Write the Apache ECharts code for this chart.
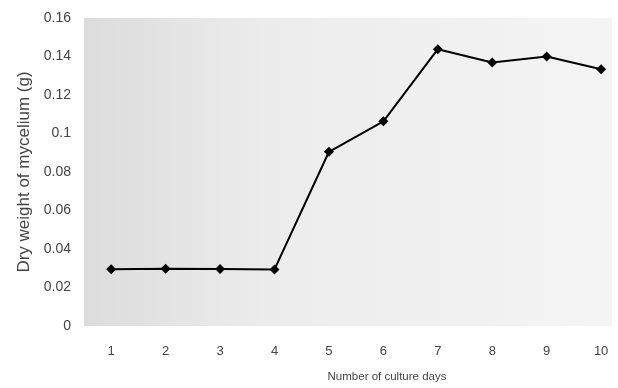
<!DOCTYPE html>
<html>
<head>
<meta charset="utf-8">
<script src="https://cdn.jsdelivr.net/npm/echarts@6/dist/echarts.min.js"></script>
<style>
  html, body { margin: 0; padding: 0; background: #fff; }
  #main { width: 618px; height: 388px; }
</style>
</head>
<body>
<div id="main"></div>
<script>
var days = [1, 2, 3, 4, 5, 6, 7, 8, 9, 10];
var dryWeight = [0.0295, 0.0297, 0.0296, 0.0294, 0.0905, 0.1063, 0.1438, 0.1369, 0.1400, 0.1334];

var yTicks = [0, 0.02, 0.04, 0.06, 0.08, 0.1, 0.12, 0.14, 0.16];

var myChart = echarts.init(document.getElementById('main'));

var points = days.map(function (d, i) {
    return [d, dryWeight[i]];
});

option = {
    animation: false,
    grid: {
        left: 84,
        right: 6,
        top: 18,
        bottom: 61,
        show: true,
        borderWidth: 0,
        backgroundColor: new echarts.graphic.LinearGradient(0, 0, 1, 0, [
            { offset: 0, color: '#dcdcdc' },
            { offset: 0.35, color: '#ececec' },
            { offset: 1, color: '#f4f4f4' }
        ])
    },
    xAxis: {
        type: 'value',
        min: 0.5,
        max: 10.2,
        interval: 0.5,
        name: 'Number of culture days',
        nameLocation: 'middle',
        nameGap: 45,
        nameTextStyle: {
            fontFamily: 'Liberation Sans',
            fontSize: 11.5,
            color: '#444',
            padding: [0, 0, 0, 78]
        },
        axisLine: { show: false },
        axisTick: { show: false },
        splitLine: { show: false },
        axisLabel: {
            margin: 19,
            fontFamily: 'Liberation Sans',
            fontSize: 13,
            color: '#444',
            formatter: function (v) {
                return days.indexOf(v) >= 0 ? String(v) : '';
            }
        }
    },
    yAxis: {
        type: 'value',
        min: yTicks[0],
        max: yTicks[yTicks.length - 1],
        interval: 0.02,
        name: 'Dry weight of mycelium (g)',
        nameLocation: 'middle',
        nameGap: 50,
        nameTextStyle: {
            fontFamily: 'Liberation Sans',
            fontSize: 17,
            color: '#444'
        },
        axisLine: { show: false },
        axisTick: { show: false },
        splitLine: { show: false },
        axisLabel: {
            margin: 13,
            fontFamily: 'Liberation Sans',
            fontSize: 14,
            color: '#444',
            formatter: function (v) {
                return String(parseFloat(v.toFixed(2)));
            }
        }
    },
    series: [{
        type: 'line',
        data: points,
        symbol: 'diamond',
        symbolSize: 10,
        itemStyle: { color: '#000' },
        lineStyle: { color: '#000', width: 2 }
    }]
};

myChart.setOption(option);
</script>
</body>
</html>
